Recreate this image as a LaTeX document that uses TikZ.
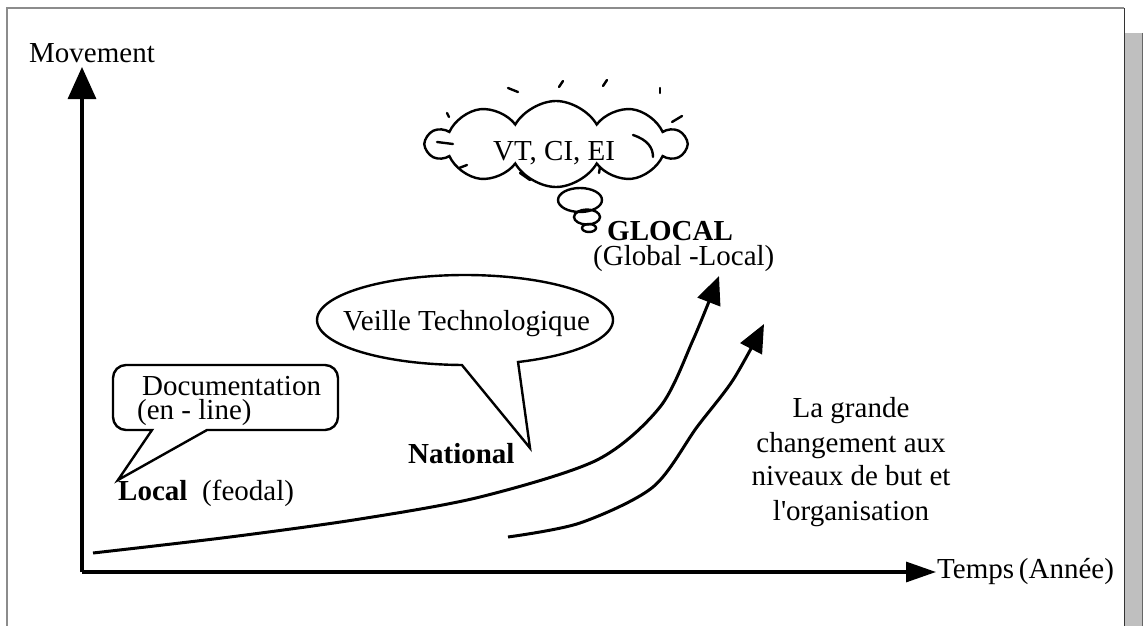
\documentclass[tikz,border=0pt]{standalone}
\usepackage{fontspec}
\setmainfont{Liberation Serif}
\usetikzlibrary{arrows.meta,shapes.geometric,shapes.symbols}
\begin{document}
\begin{tikzpicture}[x=1pt,y=-1pt,
  txt/.style={inner sep=0pt,font=\fontsize{29}{34}\selectfont},
  btxt/.style={inner sep=0pt,font=\fontsize{29}{34}\selectfont\bfseries},
  axis/.style={line width=3.2pt},
  curve/.style={line width=3pt,-{Triangle[length=28pt,width=24pt]}},
  bubble/.style={line width=2.4pt,line join=miter},
  tick/.style={line width=2.4pt,line cap=round},
  thought/.style={draw,ellipse,line width=2.4pt,inner sep=0pt}]
\useasboundingbox (0,0) rectangle (1145,626);
% frame
\fill[black!25] (1124,33) rectangle (1142,626);
\draw[black!60,line width=1pt] (1142,33) -- (1142,626);
\draw[black!45,line width=1.5pt] (7,626) -- (7,8) -- (1124,8);
\draw[black!80,line width=1pt] (1124,8) -- (1124,626);
% axes
\coordinate (O) at (82,572);
\coordinate (ytip) at (82,67);
\coordinate (xtip) at (936,572);
\draw[axis,-{Triangle[length=32pt,width=28pt]}] (O) -- (ytip);
\draw[axis,-{Triangle[length=30pt,width=20pt]}] (O) -- (xtip);
\node[txt,anchor=base] (mov) at (92,63) {Movement};
\node[txt,anchor=base west] (temps) at (937,578) {Temps\,(Année)};
% curves
\draw[curve] plot[smooth] coordinates {(93,553) (230,537) (360,519) (480,497) (597,460) (660,407) (693,340) (719,276)};
\draw[curve] plot[smooth] coordinates {(508,537) (580,523) (653,487) (697,427) (733,380) (764,324)};
% documentation callout
\coordinate (doctip) at (118,480);
\draw[bubble] (152,430) -- (doctip) -- (207,430)
  {[rounded corners=13] -- (338,430) -- (338,365) -- (113,365) -- (113,430)} -- cycle;
\node[txt,anchor=base west] (doc1) at (142,395) {Documentation};
\node[txt,anchor=base west] (doc2) at (137,419) {(en - line)};
\node[btxt,anchor=base west] (local) at (118,500) {Local};
\node[txt,anchor=base west] (feodal) at (202,500) {(feodal)};
% veille callout
\coordinate (vtip) at (530,448);
\draw[bubble] plot[smooth,domain=91.2:429,samples=120] ({465+148*cos(\x)},{320+45*sin(\x)})
  -- (vtip) -- cycle;
\node[txt,anchor=base west] (veille) at (343,330) {Veille Technologique};
\node[btxt,anchor=base west] (national) at (408,463) {National};
% cloud
\node[draw,cloud,cloud puffs=10,cloud puff arc=120,aspect=3,minimum width=258pt,minimum height=86pt,line width=2.4pt,inner sep=0pt] (cl) at (556,144) {};
\node[txt,anchor=base west] (vt) at (493,160) {VT, CI, EI};
\draw[tick] (508,88) -- (518,92);
\draw[tick] (559,87) -- (563,81);
\draw[tick] (603,86) -- (607,80);
\draw[tick] (660,88) -- (660,93);
\draw[tick] (437,142) -- (453,144);
\draw[tick] (459,168) -- (467,165);
\draw[tick] (633,135) .. controls (648,140) and (653,148) .. (653,157);
\draw[tick] (520,173) -- (530,180);
\draw[tick] (600,167) -- (599,173);
\draw[tick] (672,122) -- (682,116);
\draw[tick] (447,113) -- (449,117);
\node[thought,minimum width=44pt,minimum height=24pt] (t1) at (580,200) {};
\node[thought,minimum width=26pt,minimum height=15pt] (t2) at (587,217) {};
\node[thought,minimum width=14pt,minimum height=8pt] (t3) at (589,228) {};
\node[btxt,anchor=base west] (glocal) at (607,240) {GLOCAL};
\node[txt,anchor=base west] (glob) at (593,265) {(Global -Local)};
% right text
\node[txt,anchor=base] (r1) at (851,417) {La grande};
\node[txt,anchor=base] (r2) at (851,452) {changement aux};
\node[txt,anchor=base] (r3) at (851,485) {niveaux de but et};
\node[txt,anchor=base] (r4) at (851,520) {l\textquotesingle organisation};
\end{tikzpicture}
\end{document}
